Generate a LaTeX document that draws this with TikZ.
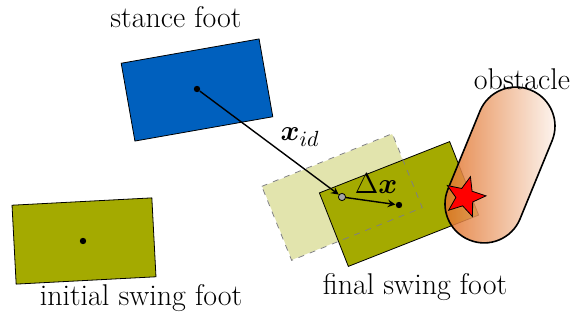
\documentclass[tikz,border=0pt]{standalone}
\usepackage{bm}
\usetikzlibrary{shapes.geometric}
\definecolor{footolive}{RGB}{164,170,0}
\definecolor{stanceblue}{RGB}{0,96,190}
\definecolor{obstorange}{RGB}{222,100,20}
\begin{document}
\begin{tikzpicture}[x=0.5pt,y=-0.5pt,every node/.style={font=\fontsize{15}{17}\selectfont},
  foot/.style={draw,thin,minimum width=70pt,minimum height=39.5pt,inner sep=0pt},
  dot/.style={circle,fill=black,inner sep=0pt,minimum size=3.2pt}]
\useasboundingbox (0,0) rectangle (575,320);
% feet
\node[foot,fill=stanceblue,rotate=10] (stance) at (197,90) {};
\node[foot,fill=footolive,rotate=3] (initial) at (84,241) {};
\node[foot,draw=none,fill=footolive!32,rotate=22] (ghost) at (342,197) {};
\node[foot,fill=footolive,rotate=21.5] (final) at (399,204) {};
\draw[dashed,gray,thin] (ghost.north west) -- (ghost.north east) -- (ghost.south east) -- (ghost.south west) -- cycle;
% obstacle and contact
\node[draw,thick,rounded corners=19.4pt,minimum width=81pt,minimum height=39pt,inner sep=0pt,rotate=67.7,left color=obstorange,right color=white,fill opacity=0.85] (obstacle) at (500,165) {};
\node[star,star points=5,star point ratio=2.3,draw,fill=red,minimum size=21pt,inner sep=0pt,rotate=-15] (hit) at (465,197) {};
% foot positions
\node[dot] (xs) at (197,89) {};
\node[dot] (xi) at (83,241) {};
\node[circle,draw,fill=gray!70,inner sep=0pt,minimum size=3.6pt] (xg) at (342,197) {};
\node[dot] (xf) at (399,205) {};
\draw[-stealth,line width=0.7pt] (xs) -- (xg);
\draw[-stealth,line width=0.7pt] (xg) -- (xf);
% labels
\node (lxid) at (300,137) {$\bm{x}_{id}$};
\node (ldx) at (376,184) {$\Delta\bm{x}$};
\node (lstance) at (176,17) {stance foot};
\node (linitial) at (141,298) {initial swing foot};
\node (lfinal) at (415,287) {final swing foot};
\node (lobst) at (522,79) {obstacle};
\end{tikzpicture}
\end{document}
